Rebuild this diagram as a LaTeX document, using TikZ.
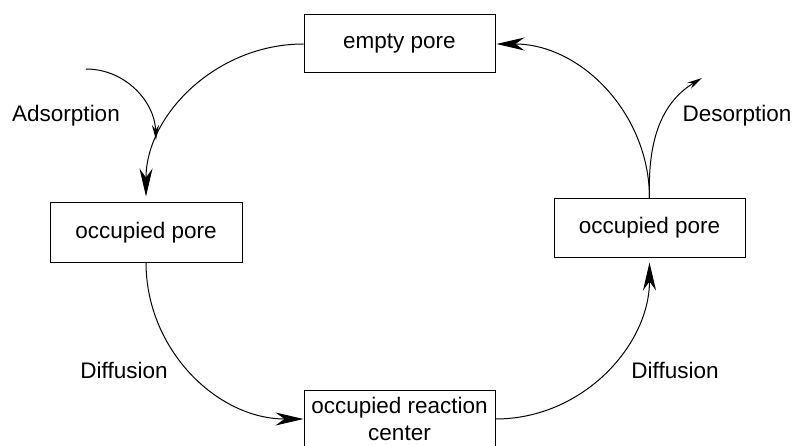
\documentclass[tikz,border=0pt]{standalone}
\usepackage{fontspec}
\setmainfont{Liberation Sans}
\usetikzlibrary{arrows.meta}
\begin{document}
\begin{tikzpicture}[x=1pt,y=1pt,
  box/.style={draw,line width=1pt,inner sep=0pt,minimum width=191pt,minimum height=58pt,align=center,
    font=\fontsize{22.5}{27}\selectfont},
  lbl/.style={inner sep=0pt,font=\fontsize{22.5}{27}\selectfont},
  conn/.style={line width=1pt},
  big/.style={-{Stealth[length=28pt,width=13pt,inset=9pt]}},
  small/.style={-{Stealth[length=15pt,width=7pt,inset=5pt]}}]
\useasboundingbox (0,0) rectangle (795,445);
\node[box] (empty) at (399.5,401) {empty pore};
\node[box,minimum width=192pt,minimum height=59pt] (lpore) at (146,212.5) {occupied pore};
\node[box] (rpore) at (649.5,217) {occupied pore};
\node[box] (react) at (399.5,26) {occupied reaction\\center};
\coordinate (a0) at (86,376);
\coordinate (a1) at (156,305);
\coordinate (d1) at (702,367);
\draw[conn,big,shorten >=6pt] (empty.west) to[out=180,in=90] (lpore.north);
\draw[conn,small] (a0) to[out=0,in=92] (a1);
\draw[conn,big] (lpore.south) to[out=-90,in=180] (react.west);
\draw[conn,big,shorten >=5pt] (react.east) to[out=0,in=-90] (rpore.south);
\draw[conn,big,shorten >=1pt] (rpore.north) to[out=90,in=0] (empty.east);
\draw[conn,small] (rpore.north) to[out=92,in=211] (d1);
\node[lbl] (ads) at (66,329) {Adsorption};
\node[lbl] (des) at (737,329) {Desorption};
\node[lbl] (dl) at (124,75) {Diffusion};
\node[lbl] (dr) at (675,75) {Diffusion};
\end{tikzpicture}
\end{document}
